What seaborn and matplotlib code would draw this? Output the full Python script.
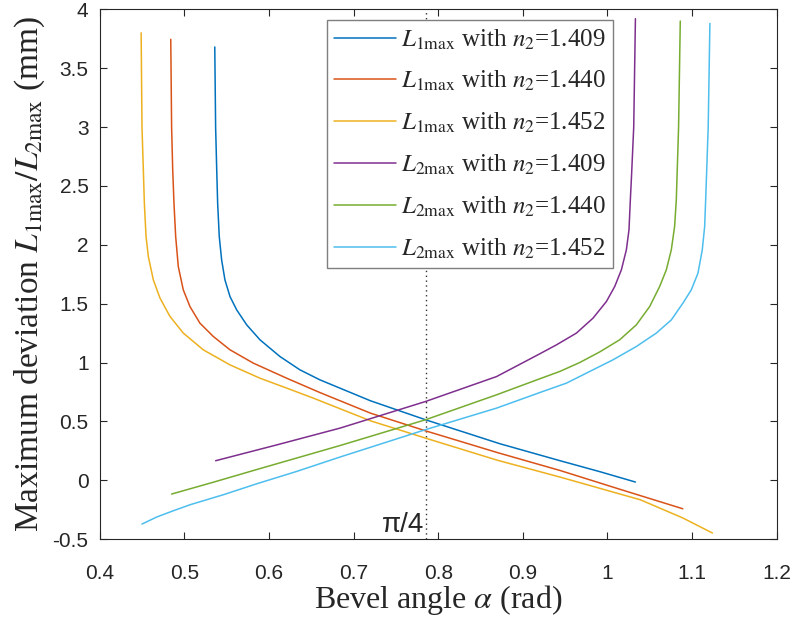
import numpy as np
import pandas as pd
import matplotlib
matplotlib.use("Agg")
import matplotlib.pyplot as plt
import seaborn as sns

# ---- data ----
l1_1409_x = [0.536, 0.537, 0.5383, 0.5394, 0.5413, 0.5441, 0.548, 0.554, 0.5619, 0.5737, 0.5894, 0.613, 0.6366, 0.6602, 0.720, 0.785, 0.873, 0.944, 0.991, 1.033]
l1_1409_y = [3.68, 3.00, 2.637, 2.353, 2.07, 1.872, 1.702, 1.56, 1.447, 1.32, 1.193, 1.051, 0.938, 0.853, 0.675, 0.514, 0.31, 0.166, 0.073, -0.015]

l1_1440_x = [0.484, 0.485, 0.4863, 0.4878, 0.4898, 0.4929, 0.4988, 0.5067, 0.5185, 0.5343, 0.554, 0.5815, 0.6209, 0.6602, 0.720, 0.785, 0.870, 0.944, 1.014, 1.089]
l1_1440_y = [3.745, 3.00, 2.637, 2.353, 2.07, 1.815, 1.617, 1.475, 1.334, 1.221, 1.108, 0.995, 0.867, 0.745, 0.57, 0.42, 0.235, 0.083, -0.075, -0.242]

l1_1452_x = [0.449, 0.450, 0.4516, 0.4528, 0.4548, 0.4575, 0.4634, 0.4713, 0.4831, 0.4988, 0.5224, 0.554, 0.5894, 0.6209, 0.6523, 0.720, 0.785, 0.870, 0.944, 1.039, 1.089, 1.124]
l1_1452_y = [3.80, 3.00, 2.637, 2.353, 2.07, 1.90, 1.702, 1.547, 1.391, 1.25, 1.108, 0.98, 0.867, 0.783, 0.698, 0.505, 0.358, 0.17, 0.027, -0.166, -0.32, -0.448]

l2_1409_x = [0.537, 0.609, 0.684, 0.785, 0.869, 0.920, 0.9397, 0.9633, 0.9829, 0.9987, 1.0085, 1.0164, 1.0223, 1.0254, 1.0270, 1.0285, 1.031, 1.033]
l2_1409_y = [0.166, 0.30, 0.443, 0.669, 0.881, 1.074, 1.15, 1.25, 1.377, 1.518, 1.645, 1.787, 1.957, 2.126, 2.381, 2.60, 3.00, 3.92]

l2_1440_x = [0.485, 0.535, 0.585, 0.684, 0.785, 0.869, 0.920, 0.9436, 0.9672, 0.9908, 1.0144, 1.0341, 1.0498, 1.0616, 1.0695, 1.0754, 1.0793, 1.0813, 1.084, 1.086]
l2_1440_y = [-0.117, -0.015, 0.09, 0.295, 0.514, 0.726, 0.862, 0.924, 1.0, 1.09, 1.193, 1.32, 1.475, 1.645, 1.787, 1.957, 2.155, 2.381, 3.00, 3.90]

l2_1452_x = [0.450, 0.4674, 0.487, 0.5067, 0.546, 0.5855, 0.6327, 0.6838, 0.785, 0.869, 0.920, 0.9515, 0.979, 1.0065, 1.0341, 1.0577, 1.0754, 1.0891, 1.099, 1.1069, 1.112, 1.1148, 1.116, 1.119, 1.121]
l2_1452_y = [-0.372, -0.312, -0.259, -0.208, -0.123, -0.03, 0.075, 0.197, 0.43, 0.613, 0.745, 0.825, 0.924, 1.023, 1.136, 1.25, 1.362, 1.504, 1.617, 1.759, 1.957, 2.155, 2.381, 3.00, 3.88]

labels = [r"$L_{1\mathrm{max}}$ with $n_2$=1.409",
          r"$L_{1\mathrm{max}}$ with $n_2$=1.440",
          r"$L_{1\mathrm{max}}$ with $n_2$=1.452",
          r"$L_{2\mathrm{max}}$ with $n_2$=1.409",
          r"$L_{2\mathrm{max}}$ with $n_2$=1.440",
          r"$L_{2\mathrm{max}}$ with $n_2$=1.452"]
colors = ["#0072BD", "#D95319", "#EDB120", "#7E2F8E", "#77AC30", "#4DBEEE"]

xticks = [0.4, 0.5, 0.6, 0.7, 0.8, 0.9, 1.0, 1.1, 1.2]
xticklabels = ["0.4", "0.5", "0.6", "0.7", "0.8", "0.9", "1", "1.1", "1.2"]
yticks = [-0.5, 0, 0.5, 1, 1.5, 2, 2.5, 3, 3.5, 4]
yticklabels = ["-0.5", "0", "0.5", "1", "1.5", "2", "2.5", "3", "3.5", "4"]

series = [(l1_1409_x, l1_1409_y), (l1_1440_x, l1_1440_y), (l1_1452_x, l1_1452_y),
          (l2_1409_x, l2_1409_y), (l2_1440_x, l2_1440_y), (l2_1452_x, l2_1452_y)]

sns.set_style("ticks")
plt.rcParams["font.family"] = ["Liberation Serif", "DejaVu Serif"]
plt.rcParams["mathtext.fontset"] = "stix"

fig = plt.figure(figsize=(7.91, 6.19), dpi=100)
ax = fig.add_axes([0.126, 0.129, 0.856, 0.856])

for (xs, ys), lab, col in zip(series, labels, colors):
    df = pd.DataFrame({"x": xs, "y": ys})
    sns.lineplot(data=df, x="x", y="y", ax=ax, color=col, label=lab,
                 sort=False, estimator=None, linewidth=1.1)

ax.axvline(np.pi / 4, color="#333333", linestyle=(0, (1, 2.5)), linewidth=1.0, zorder=1)
ax.text(0.783, -0.38, r"π/4", ha="right", va="center", fontsize=20,
        family="Liberation Sans")

ax.set_xlim(0.4, 1.2)
ax.set_ylim(-0.5, 4)
ax.set_xticks(xticks)
ax.set_xticklabels(xticklabels, family="Liberation Sans", fontsize=15)
ax.set_yticks(yticks)
ax.set_yticklabels(yticklabels, family="Liberation Sans", fontsize=15)
ax.tick_params(direction="in", top=True, right=True, length=5, width=0.8,
               colors="#262626")
ax.tick_params(axis="x", pad=18)
ax.tick_params(axis="y", pad=8)
for s in ax.spines.values():
    s.set_color("#262626")
    s.set_linewidth(0.8)

ax.set_xlabel(r"Bevel angle $\alpha$ (rad)", fontsize=23, labelpad=0)
ax.set_ylabel(r"Maximum deviation $L_{1\mathrm{max}}/L_{2\mathrm{max}}$ (mm)", fontsize=24, labelpad=4)

leg = ax.legend(loc="upper right", bbox_to_anchor=(0.758, 0.98), fontsize=18,
                frameon=True, fancybox=False, framealpha=1, edgecolor="#7f7f7f",
                handlelength=2.45, handletextpad=0.2, labelspacing=0.7,
                borderpad=0.3, borderaxespad=0)
leg.get_frame().set_linewidth(1.0)
leg.set_zorder(5)

fig.savefig("out.png", dpi=100)
